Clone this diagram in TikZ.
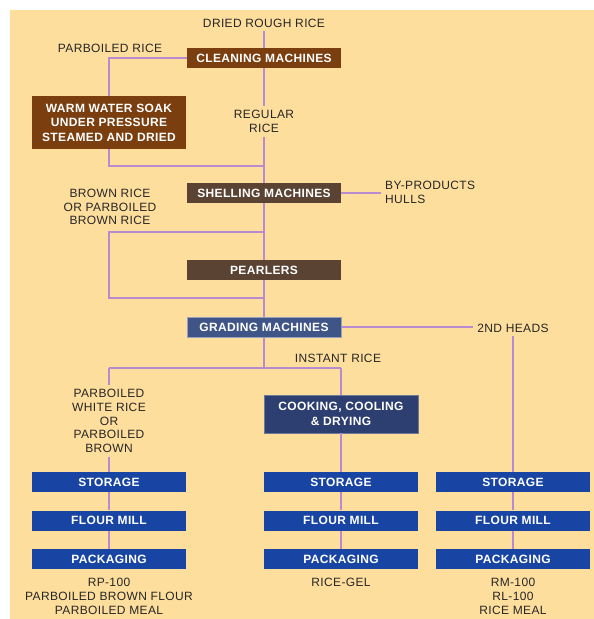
\documentclass[tikz,border=0pt]{standalone}
\usepackage{fontspec}
\setmainfont[LetterSpace=3]{Liberation Sans}
\usetikzlibrary{positioning}
\definecolor{sand}{HTML}{FEDE9D}
\definecolor{rust}{HTML}{7A3E0F}
\definecolor{bark}{HTML}{5B4334}
\definecolor{slate}{HTML}{3F5587}
\definecolor{navy}{HTML}{2D3F70}
\definecolor{royal}{HTML}{1845A4}
\definecolor{lilac}{HTML}{B88BD0}
\definecolor{ink}{HTML}{262626}

\begin{document}
\begin{tikzpicture}[x=1pt,y=-1pt,
	box/.style={minimum width=154pt, minimum height=20pt, inner sep=0pt, text=white, align=center, font=\fontsize{12}{14.5}\selectfont\bfseries},
	lbl/.style={text=ink, align=center, inner sep=4pt, font=\fontsize{12}{13.8}\selectfont},
	wire/.style={draw=lilac, line width=1.4pt}]
%	\draw [help lines] (0,0) grid (594,619);
	\useasboundingbox (0,0) rectangle (594,619);
	\fill [sand] (10,10) rectangle (594,619);

	% top of the mill
	\node [lbl] (dried) at (264,23) {DRIED ROUGH RICE};
	\node [box, fill=rust] (clean) at (264,58) {CLEANING MACHINES};
	\node [lbl] (parb) at (110,48) {PARBOILED RICE};
	\node [box, fill=rust, minimum height=53pt] (soak) at (109,122.5) {WARM WATER SOAK\\UNDER PRESSURE\\STEAMED AND DRIED};
	\node [lbl] (regular) at (264,121.5) {REGULAR\\RICE};
	\node [box, fill=bark] (shell) at (264,193) {SHELLING MACHINES};
	\node [lbl, anchor=west, align=left] (byprod) at (381,192) {BY-PRODUCTS\\HULLS};
	\node [lbl] (brown) at (110,207) {BROWN RICE\\OR PARBOILED\\BROWN RICE};
	\node [box, fill=bark] (pearl) at (264,270) {PEARLERS};
	\node [box, fill=slate, draw=slate!55!white, line width=1pt] (grade) at (264,327) {GRADING MACHINES};
	\node [lbl] (heads) at (513,328) {2ND HEADS};
	\node [lbl] (instant) at (338,358) {INSTANT RICE};

	% three product lines
	\node [lbl] (pwr) at (109,421) {PARBOILED\\WHITE RICE\\OR\\PARBOILED\\BROWN};
	\node [box, fill=navy, draw=navy!70!white, minimum height=38pt] (cook) at (341,414) {COOKING, COOLING\\\& DRYING};
	\foreach \col/\x in {A/109, B/341, C/513} {
		\node [box, fill=royal] (sto\col) at (\x,482) {STORAGE};
		\node [box, fill=royal] (mill\col) at (\x,520.5) {FLOUR MILL};
		\node [box, fill=royal] (pack\col) at (\x,559) {PACKAGING};
	}
	\node [lbl, below=5pt of packA] (outA) {RP-100\\PARBOILED BROWN FLOUR\\PARBOILED MEAL};
	\node [lbl, below=5pt of packB] (outB) {RICE-GEL};
	\node [lbl, below=5pt of packC] (outC) {RM-100\\RL-100\\RICE MEAL};

	\coordinate (j1) at (264,166);
	\coordinate (j2) at (264,232);
	\coordinate (j3) at (264,298);
	\coordinate (j4) at (264,368);

	% connectors
	\draw [wire] (dried) -- (clean);
	\draw [wire] (clean.west) -| (soak.north);
	\draw [wire] (clean) -- (regular);
	\draw [wire] (regular) -- (shell);
	\draw [wire] (soak.south) |- (j1);
	\draw [wire] (shell.east) -- (shell.east -| byprod.west);
	\draw [wire] (shell) -- (pearl);
	\draw [wire] (j2) -- (j2 -| soak) -- (j3 -| soak) -- (j3);
	\draw [wire] (pearl) -- (grade);
	\draw [wire] (grade.east) -- (grade.east -| heads.west);
	\draw [wire] (heads) -- (stoC);
	\draw [wire] (grade) -- (j4);
	\draw [wire] (j4 -| soak) -- (j4 -| cook);
	\draw [wire] (j4 -| soak) -- (pwr);
	\draw [wire] (pwr) -- (stoA);
	\draw [wire] (j4 -| cook) -- (cook);
	\draw [wire] (cook) -- (stoB);
	\foreach \col in {A,B,C} {
		\draw [wire] (sto\col) -- (mill\col);
		\draw [wire] (mill\col) -- (pack\col);
	}
\end{tikzpicture}
\end{document}
